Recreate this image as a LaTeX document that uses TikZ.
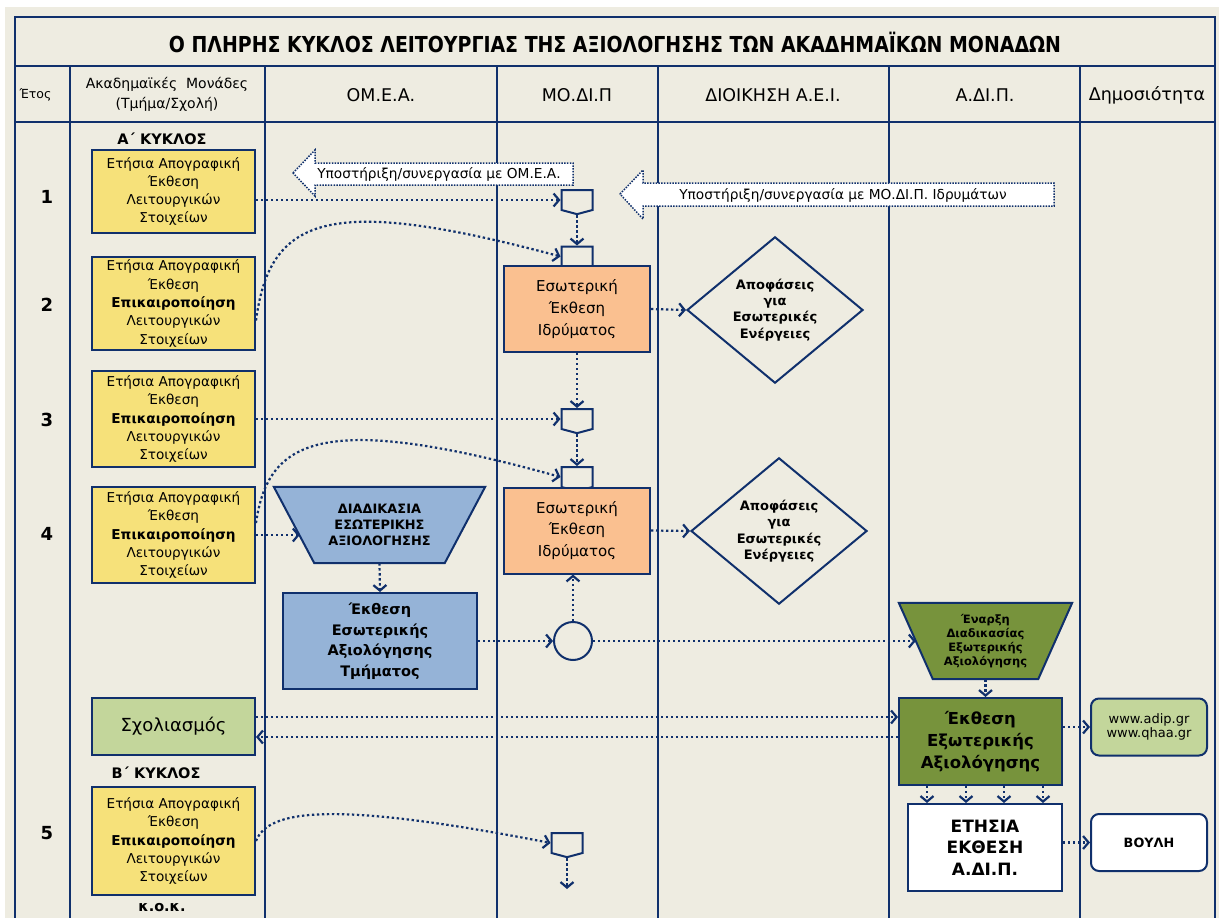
\documentclass[tikz,border=0pt]{standalone}
\usepackage{fontspec}
\usepackage{graphicx}
\setmainfont{DejaVu Sans}
\usetikzlibrary{arrows.meta,shapes.geometric,shapes.symbols}

\definecolor{navy}{HTML}{10306C}
\definecolor{paper}{HTML}{EEECE1}
\definecolor{yellowbox}{HTML}{F6E17A}
\definecolor{salmon}{HTML}{FAC090}
\definecolor{bluebox}{HTML}{95B3D7}
\definecolor{darkolive}{HTML}{77933C}
\definecolor{lightolive}{HTML}{C3D69B}

\begin{document}
\begin{tikzpicture}[x=1pt,y=-1pt,
    tbl/.style={navy,line width=2.2pt},
    flow/.style={navy,line width=2.2pt,dash pattern=on 2.4pt off 2.6pt,-{Straight Barb[length=5.5pt,width=13pt]}},
    callout/.style={draw=navy,fill=white,line width=1.5pt,dash pattern=on 1.5pt off 1.3pt},
    box/.style={draw=navy,line width=2pt,align=center,inner sep=0pt},
    unit/.style={box,fill=yellowbox,minimum width=163pt,font=\fontsize{13.6}{18.3}\selectfont},
    conn/.style={draw=navy,line width=2pt,signal,signal to=south,signal from=nowhere,signal pointer angle=150,minimum width=31pt,minimum height=20pt,inner sep=0pt},
    report/.style={box,fill=salmon,minimum width=146pt,minimum height=86pt,font=\fontsize{15}{21.7}\selectfont},
    decision/.style={box,diamond,minimum width=176pt,minimum height=144pt,font=\fontsize{13}{16.3}\selectfont\bfseries},
    frame/.style={minimum height=76pt,inner sep=0pt},
    pub/.style={box,rounded corners=8pt,minimum width=116pt,minimum height=57pt},
    head/.style={font=\fontsize{17.5}{17.5}\selectfont},
    rownum/.style={font=\fontsize{18}{18}\selectfont\bfseries},
    cyclbl/.style={font=\fontsize{14.5}{14.5}\selectfont\bfseries}]

    \useasboundingbox (0,0) rectangle (1219,918);
    \fill[white] (0,0) rectangle (1219,918);
    \fill[paper] (5,7) rectangle (1219,918);

    \draw[tbl] (15,918) -- (15,17) -- (1215,17) -- (1215,918);
    \draw[tbl] (15,66) -- (1215,66) (15,122) -- (1215,122);
    \foreach \x in {70,265,497,658,889,1080}
        \draw[tbl] (\x,66) -- (\x,918);

    \node (title) at (615,42) {\scalebox{0.86}[1]{\fontsize{22}{22}\selectfont\bfseries Ο ΠΛΗΡΗΣ ΚΥΚΛΟΣ ΛΕΙΤΟΥΡΓΙΑΣ ΤΗΣ ΑΞΙΟΛΟΓΗΣΗΣ ΤΩΝ ΑΚΑΔΗΜΑΪΚΩΝ ΜΟΝΑΔΩΝ}};
    \node[anchor=west,font=\fontsize{12.5}{12.5}\selectfont] (hyear) at (16,95) {Έτος};
    \node[align=center,font=\fontsize{14}{20}\selectfont] (hunit) at (167,94) {Ακαδημαϊκές\ \ Μονάδες\\(Τμήμα/Σχολή)};
    \node[head] (homea) at (381,95) {ΟΜ.Ε.Α.};
    \node[head] (hmodip) at (577,95) {ΜΟ.ΔΙ.Π};
    \node[head] (hadmin) at (773,95) {ΔΙΟΙΚΗΣΗ Α.Ε.Ι.};
    \node[head] (hadip) at (985,95) {Α.ΔΙ.Π.};
    \node[head] (hpub) at (1147,95) {Δημοσιότητα};

    \node[rownum] (r1) at (47,197) {1};
    \node[rownum] (r2) at (47,305) {2};
    \node[rownum] (r3) at (47,420) {3};
    \node[rownum] (r4) at (47,534) {4};
    \node[rownum] (r5) at (47,833) {5};

    \node[cyclbl] (cyca) at (162,139) {Α΄ ΚΥΚΛΟΣ};
    \node[cyclbl] (cycb) at (156,773) {Β΄ ΚΥΚΛΟΣ};
    \node[cyclbl] (etc) at (162,908) {κ.ο.κ.};

    \node[unit,minimum height=83pt] (b1) at (173.5,191.5) {Ετήσια Απογραφική\\Έκθεση\\Λειτουργικών\\Στοιχείων};
    \node[unit,minimum height=93pt] (b2) at (173.5,303.5) {Ετήσια Απογραφική\\Έκθεση\\\textbf{Επικαιροποίηση}\\Λειτουργικών\\Στοιχείων};
    \node[unit,minimum height=96pt] (b3) at (173.5,419) {Ετήσια Απογραφική\\Έκθεση\\\textbf{Επικαιροποίηση}\\Λειτουργικών\\Στοιχείων};
    \node[unit,minimum height=96pt] (b4) at (173.5,535) {Ετήσια Απογραφική\\Έκθεση\\\textbf{Επικαιροποίηση}\\Λειτουργικών\\Στοιχείων};
    \node[box,fill=lightolive,minimum width=163pt,minimum height=57pt,font=\fontsize{18}{18}\selectfont] (sx) at (173.5,726.5) {Σχολιασμός};
    \node[unit,minimum height=108pt] (b5) at (173.5,841) {Ετήσια Απογραφική\\Έκθεση\\\textbf{Επικαιροποίηση}\\Λειτουργικών\\Στοιχείων};

    \filldraw[callout] (293,173) -- (315,150) -- (315,163) -- (573,163) -- (573,185) -- (315,185) -- (315,196) -- cycle;
    \node[font=\fontsize{13.7}{13.7}\selectfont] (sup1) at (439,174) {Υποστήριξη/συνεργασία με ΟΜ.Ε.Α.};
    \filldraw[callout] (620,194) -- (643,170) -- (643,183) -- (1054,183) -- (1054,206) -- (643,206) -- (643,219) -- cycle;
    \node[font=\fontsize{13.7}{13.7}\selectfont] (sup2) at (843,195) {Υποστήριξη/συνεργασία με ΜΟ.ΔΙ.Π. Ιδρυμάτων};

    \node[conn] (c1) at (577,200) {};
    \node[conn] (c2) at (577,256.5) {};
    \node[conn] (c3) at (577,419) {};
    \node[conn] (c4) at (577,477) {};
    \node[conn] (c5) at (567,843) {};
    \coordinate (c5end) at (567,889);

    \node[report] (ei1) at (577,309) {Εσωτερική\\Έκθεση\\Ιδρύματος};
    \node[report] (ei2) at (577,530.5) {Εσωτερική\\Έκθεση\\Ιδρύματος};
    \node[decision] (d1) at (775,310) {Αποφάσεις\\για\\Εσωτερικές\\Ενέργειες};
    \node[decision] (d2) at (779,531) {Αποφάσεις\\για\\Εσωτερικές\\Ενέργειες};

    \node[frame,minimum width=211pt] (dk) at (379.5,525) {};
    \filldraw[fill=bluebox,draw=navy,line width=2pt] (dk.north west) -- (dk.north east) -- ([xshift=-40.5pt]dk.south east) -- ([xshift=40.5pt]dk.south west) -- cycle;
    \node[align=center,font=\fontsize{12.9}{16}\selectfont\bfseries] (dktext) at (dk) {ΔΙΑΔΙΚΑΣΙΑ\\ΕΣΩΤΕΡΙΚΗΣ\\ΑΞΙΟΛΟΓΗΣΗΣ};
    \node[box,fill=bluebox,minimum width=194pt,minimum height=96pt,font=\fontsize{14.5}{20.5}\selectfont\bfseries] (ek) at (380,641) {Έκθεση\\Εσωτερικής\\Αξιολόγησης\\Τμήματος};
    \node[draw=navy,line width=2pt,circle,minimum size=38pt,inner sep=0pt] (cr) at (573,641) {};

    \node[frame,minimum width=173pt] (en) at (985.5,641) {};
    \filldraw[fill=darkolive,draw=navy,line width=2pt] (en.north west) -- (en.north east) -- ([xshift=-34pt]en.south east) -- ([xshift=34pt]en.south west) -- cycle;
    \node[align=center,font=\fontsize{11.5}{14}\selectfont\bfseries] (entext) at (en) {Έναρξη\\Διαδικασίας\\Εξωτερικής\\Αξιολόγησης};
    \node[box,fill=darkolive,minimum width=163pt,minimum height=87pt,font=\fontsize{16.5}{22}\selectfont\bfseries] (ex) at (980.5,741.5) {Έκθεση\\Εξωτερικής\\Αξιολόγησης};
    \node[box,fill=white,minimum width=154pt,minimum height=87pt,font=\fontsize{17}{21.7}\selectfont\bfseries] (et) at (985,847.5) {ΕΤΗΣΙΑ\\ΕΚΘΕΣΗ\\Α.ΔΙ.Π.};
    \node[pub,fill=lightolive,font=\fontsize{13}{14.5}\selectfont] (ww) at (1149,727) {www.adip.gr\\www.qhaa.gr};
    \node[pub,fill=white,font=\fontsize{12.8}{12.8}\selectfont\bfseries] (bl) at (1149,842.5) {ΒΟΥΛΗ};

    \draw[flow] (b1.east |- c1.west) -- (c1.west);
    \draw[flow] (c1.south) -- (c2.north);
    \draw[flow] ([yshift=-17pt]b2.east) .. controls (270,215) and (330,195) .. (c2.west);
    \draw[flow] (ei1.south) -- (c3.north);
    \draw[flow] (b3.east |- c3.west) -- (c3.west);
    \draw[flow] (c3.south) -- (c4.north);
    \draw[flow] ([yshift=12pt]b4.east) .. controls (268,440) and (320,410) .. (c4.west);
    \draw[flow] (b4.east) -- ([xshift=26pt]b4.east -| dk.west);
    \draw[flow] (ei1.east) -- (d1.west);
    \draw[flow] (ei2.east) -- (d2.west);
    \draw[flow] (dk.south) -- (ek.north);
    \draw[flow] (ek.east) -- (cr.west);
    \draw[flow] (cr.north) -- (cr.north |- ei2.south);
    \draw[flow] (cr.east) -- ([xshift=17pt]cr.east -| en.west);
    \draw[flow] (en.south) -- (en.south |- ex.north);
    \draw[flow] ([yshift=9.5pt]sx.east) -- ([yshift=9.5pt]sx.east -| ex.west);
    \draw[flow] ([yshift=4.5pt]ex.west) -- ([yshift=4.5pt]ex.west -| sx.east);
    \draw[flow] (ex.east |- ww.west) -- (ww.west);
    \foreach \dx in {-58,-19,19,58}
        \draw[flow] ([xshift=\dx pt]et.north |- ex.south) -- ([xshift=\dx pt]et.north);
    \draw[flow] (et.east |- bl.west) -- (bl.west);
    \draw[flow] (b5.east) .. controls (268,810) and (330,800) .. (c5.west);
    \draw[flow] (c5.south) -- (c5end);
\end{tikzpicture}
\end{document}
